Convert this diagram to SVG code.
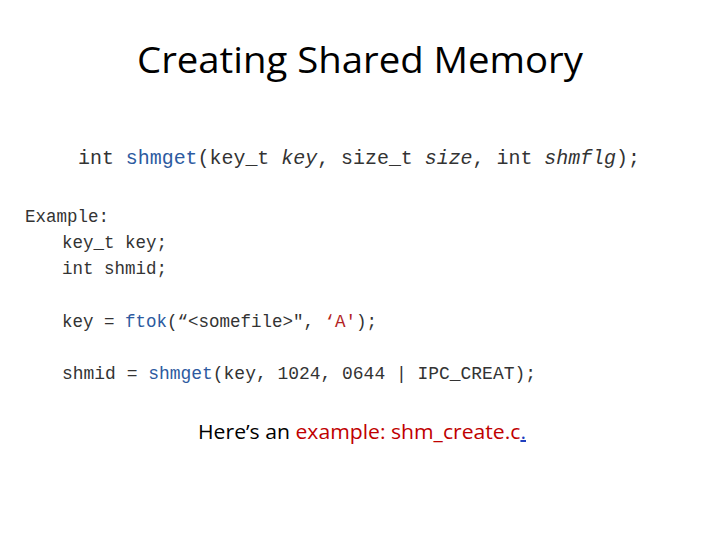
<svg xmlns="http://www.w3.org/2000/svg" width="720" height="540" viewBox="0 0 720 540">
<style>
.m{font-family:"Liberation Mono",monospace;fill:#333}
.b{fill:#2c5aa0}
.r{fill:#b22222}
</style>
<rect width="720" height="540" fill="#fff"/>
<g id="title"><text x="360" y="73" text-anchor="middle" font-family="'Open Sans','Liberation Sans',sans-serif" font-size="37" textLength="446" lengthAdjust="spacingAndGlyphs" fill="#000">Creating Shared Memory</text></g>
<g id="code">
<text class="m" x="78" y="164" font-size="20" textLength="562" lengthAdjust="spacingAndGlyphs">int <tspan class="b">shmget</tspan>(key_t <tspan font-style="italic">key</tspan>, size_t <tspan font-style="italic">size</tspan>, int <tspan font-style="italic">shmflg</tspan>);</text>
<text class="m" x="25" y="222" font-size="17.5">Example:</text>
<text class="m" x="62" y="248" font-size="17.5">key_t key;</text>
<text class="m" x="62" y="274" font-size="17.5">int shmid;</text>
<text class="m" x="62" y="327" font-size="17.5">key = <tspan class="b">ftok</tspan>(“&lt;somefile&gt;", <tspan class="r">‘A'</tspan>);</text>
<text class="m" x="62" y="379" font-size="17.5" textLength="474" lengthAdjust="spacingAndGlyphs">shmid = <tspan class="b">shmget</tspan>(key, 1024, 0644 | IPC_CREAT);</text>
</g>
<g id="footer"><text x="198" y="439" font-family="'Open Sans','Liberation Sans',sans-serif" font-size="20" textLength="328" lengthAdjust="spacingAndGlyphs" fill="#000">Here’s an <tspan fill="#c00000">example: shm_create.c</tspan><tspan fill="#1f3fbf" text-decoration="underline">.</tspan></text></g>
</svg>
